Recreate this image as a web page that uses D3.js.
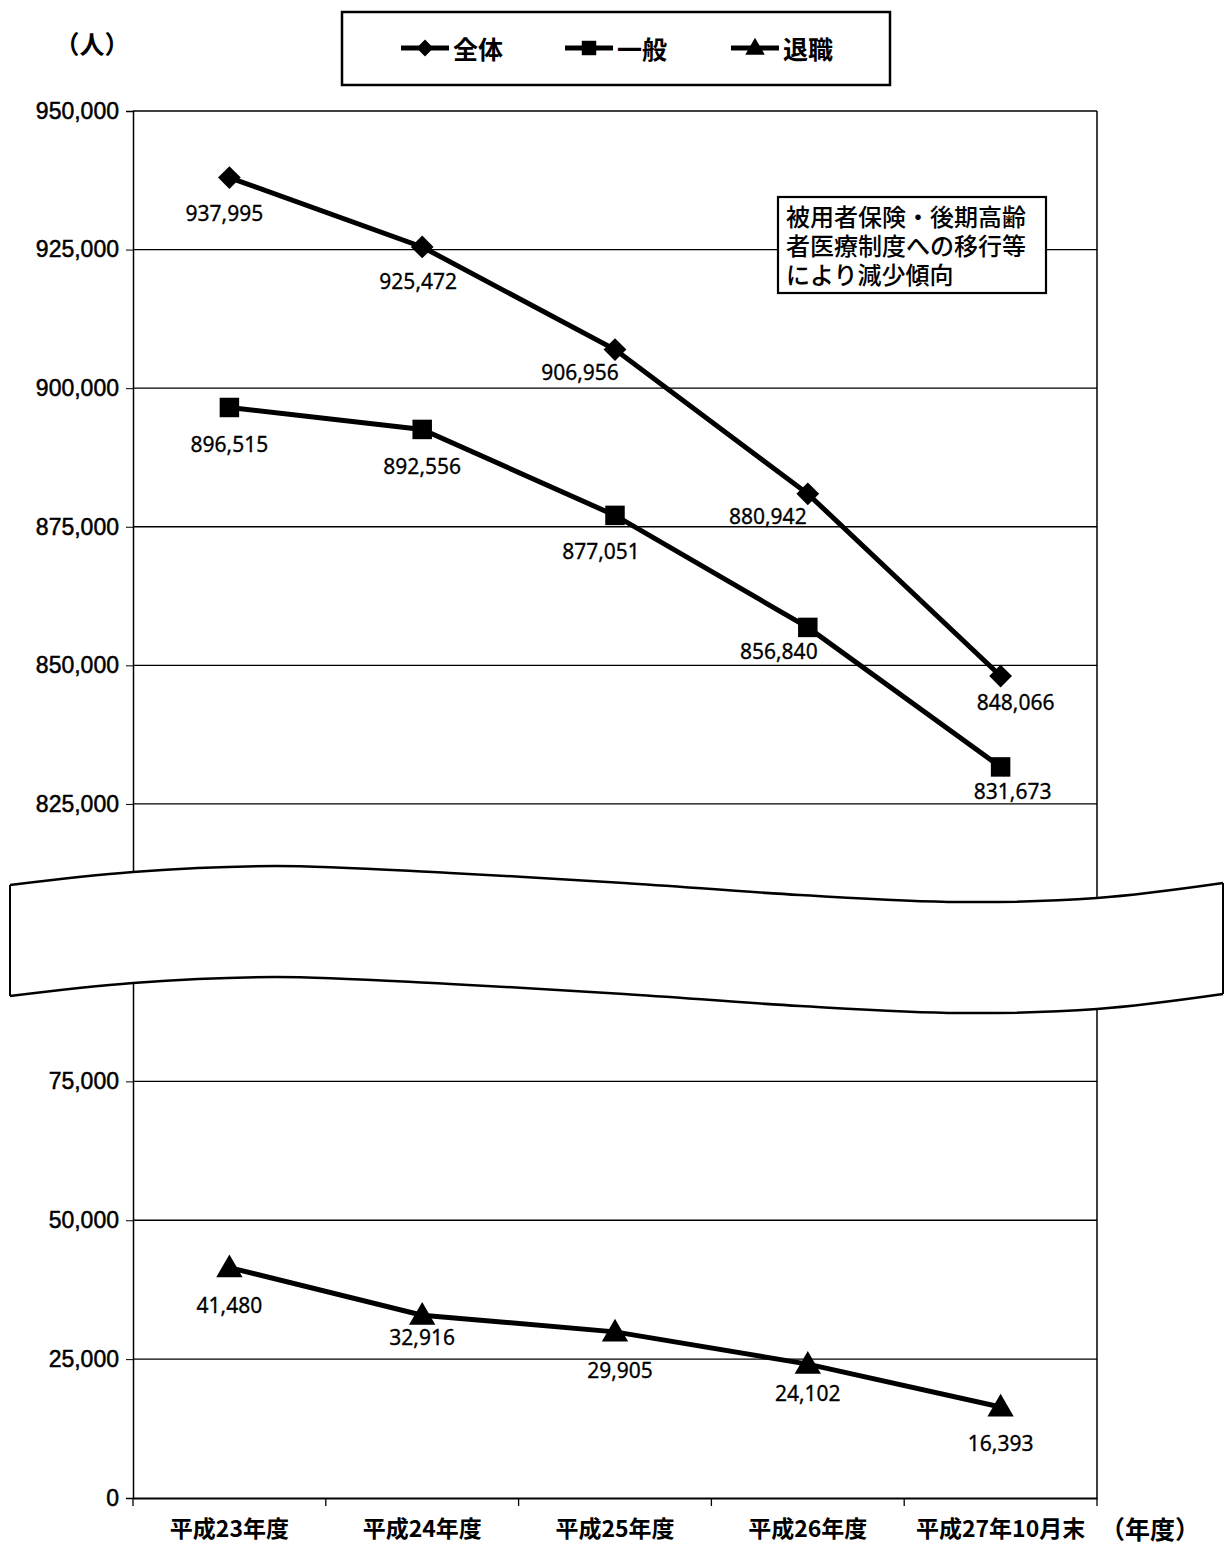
<!DOCTYPE html>
<html><head><meta charset="utf-8">
<script src="https://cdn.jsdelivr.net/npm/d3@7"></script>
<style>body{margin:0;background:#fff}svg{display:block}</style>
</head><body><svg id="c" width="1224" height="1545"></svg>
<script>
// ---------- data ----------
const categories = ["平成23年度","平成24年度","平成25年度","平成26年度","平成27年10月末"];
const seriesNames = ["全体","一般","退職"];
const totalValues = [937995, 925472, 906956, 880942, 848066];
const generalValues = [896515, 892556, 877051, 856840, 831673];
const retiredValues = [41480, 32916, 29905, 24102, 16393];
const upperTicks = [825000, 850000, 875000, 900000, 925000, 950000];
const lowerTicks = [0, 25000, 50000, 75000];
const yUnit = "（人）";
const xUnit = "（年度）";
const noteLines = ["被用者保険・後期高齢","者医療制度への移行等","により減少傾向"];

// ---------- layout (not data) ----------
const labelShift = [
  [[-5,35],[-4,34],[-35,22],[-40,22],[15,26]],
  [[0,37],[0,37],[-14,36],[-29,24],[12,24]],
  [[0,37],[0,22],[5,38],[0,29],[0,36]]
];
const wavePts = [[10,885],[133,872],[275,866],[450,873],[624,883],[800,895],[960,902],[1097,898],[1223,883]];
const waveGap = 111;
const L = 133, R = 1097, T = 111, B = 1498;

const svg = d3.select("#c");
const x = d3.scaleBand().domain(categories).range([L, R]);
const y = d3.scaleLinear().domain([0, 100000, 800000, 950000]).range([B, 942.5, 942.5, T]);
const cx = d => x(d) + x.bandwidth()/2;
const fmt = d3.format(",");

// gridlines
const gridVals = upperTicks.concat(lowerTicks).filter(v => v !== 0 && v !== 950000);
svg.append("g").selectAll("line").data(gridVals).join("line")
  .attr("x1", L).attr("x2", R).attr("y1", d => y(d)).attr("y2", d => y(d))
  .attr("stroke", "#000").attr("stroke-width", 1.3);

// frame
svg.append("line").attr("x1", L).attr("x2", R).attr("y1", T).attr("y2", T).attr("stroke", "#000").attr("stroke-width", 1.5);
svg.append("line").attr("x1", R).attr("x2", R).attr("y1", T).attr("y2", B).attr("stroke", "#000").attr("stroke-width", 1.5);

// y axis
const yAxis = d3.axisLeft(y).tickValues(upperTicks.concat(lowerTicks)).tickFormat(fmt).tickSize(7).tickPadding(7);
const gy = svg.append("g").attr("transform", `translate(${L},0)`).call(yAxis);
gy.select(".domain").attr("stroke-width", 1.5);
gy.selectAll("text").attr("font-family", "Liberation Sans, Arial, sans-serif").attr("font-size", 23)
  .attr("fill", "#000").attr("stroke", "#000").attr("stroke-width", 0.5);

// x axis
const xAxis = d3.axisBottom(x).tickSize(0).tickFormat("");
const gx = svg.append("g").attr("transform", `translate(0,${B})`).call(xAxis);
gx.select(".domain").attr("stroke-width", 2.2);
const bounds = categories.map(c => x(c)).concat([R]);
svg.append("g").selectAll("line").data(bounds).join("line")
  .attr("x1", d => d).attr("x2", d => d).attr("y1", B).attr("y2", B + 8)
  .attr("stroke", "#000").attr("stroke-width", 1.3);
svg.append("g").selectAll("text").data(categories).join("text")
  .attr("x", d => cx(d)).attr("y", B + 39).attr("text-anchor", "middle")
  .attr("font-family", "Noto Sans CJK JP").attr("font-weight", "bold").attr("font-size", 23)
  .text(d => d);

// series
const allSeries = [totalValues, generalValues, retiredValues];
const line = d3.line().x((d, i) => cx(categories[i])).y(d => y(d));
const symbols = [d3.symbolDiamond2, d3.symbolSquare, d3.symbolTriangle];
const symSizes = [330, 380, 300];
allSeries.forEach((vals, s) => {
  svg.append("path").attr("d", line(vals)).attr("fill", "none").attr("stroke", "#000").attr("stroke-width", 5);
  const g = svg.append("g");
  g.selectAll("path").data(vals).join("path")
    .attr("transform", (d, i) => `translate(${cx(categories[i])},${y(d) + (s===2?2:0)})`)
    .attr("d", d3.symbol().type(symbols[s]).size(symSizes[s])).attr("fill", "#000");
  g.selectAll("text").data(vals).join("text")
    .attr("x", (d, i) => cx(categories[i]) + labelShift[s][i][0])
    .attr("y", (d, i) => y(d) + labelShift[s][i][1])
    .attr("dominant-baseline", "central").attr("text-anchor", "middle")
    .attr("font-family", "Noto Sans, sans-serif").attr("font-size", 21)
    .attr("stroke", "#000").attr("stroke-width", 0.3)
    .text(d => fmt(d));
});

// wave break
const waveLine = d3.line().curve(d3.curveCatmullRom);
const topPts = wavePts;
const botPts = wavePts.map(p => [p[0], p[1] + waveGap]);
const topWave = waveLine(topPts);
const botWaveRev = waveLine(botPts.slice().reverse());
svg.append("path").attr("d", topWave + "L" + botWaveRev.slice(1) + "Z").attr("fill", "#fff").attr("stroke", "none");
svg.append("path").attr("d", topWave).attr("fill", "none").attr("stroke", "#000").attr("stroke-width", 2.5);
svg.append("path").attr("d", waveLine(botPts)).attr("fill", "none").attr("stroke", "#000").attr("stroke-width", 2.5);
svg.append("line").attr("x1", topPts[0][0]).attr("x2", topPts[0][0]).attr("y1", topPts[0][1]).attr("y2", botPts[0][1]).attr("stroke", "#000").attr("stroke-width", 2);
const last = topPts.length - 1;
svg.append("line").attr("x1", topPts[last][0]).attr("x2", topPts[last][0]).attr("y1", topPts[last][1]).attr("y2", botPts[last][1]).attr("stroke", "#000").attr("stroke-width", 2);

// units
svg.append("text").attr("x", 92).attr("y", 54).attr("text-anchor", "middle")
  .attr("font-family", "Noto Sans CJK JP").attr("font-weight", "bold").attr("font-size", 25).text(yUnit);
svg.append("text").attr("x", 1150).attr("y", 1539).attr("text-anchor", "middle")
  .attr("font-family", "Noto Sans CJK JP").attr("font-weight", "bold").attr("font-size", 25).text(xUnit);

// legend
svg.append("rect").attr("x", 342).attr("y", 12).attr("width", 548).attr("height", 73)
  .attr("fill", "#fff").attr("stroke", "#000").attr("stroke-width", 2.5);
const legX = [401, 565, 731];
seriesNames.forEach((n, s) => {
  const g = svg.append("g").attr("transform", `translate(${legX[s]},48)`);
  g.append("line").attr("x1", 0).attr("x2", 48).attr("stroke", "#000").attr("stroke-width", 5);
  g.append("path").attr("transform", `translate(24,${s===2?1:0})`).attr("d", d3.symbol().type(symbols[s]).size(symSizes[s]*0.55)).attr("fill", "#000");
  g.append("text").attr("x", 52).attr("y", 0).attr("dominant-baseline", "central")
    .attr("font-family", "Noto Sans CJK JP").attr("font-weight", "bold").attr("font-size", 25).text(n);
});

// note box
svg.append("rect").attr("x", 778).attr("y", 197).attr("width", 268).attr("height", 96)
  .attr("fill", "#fff").attr("stroke", "#000").attr("stroke-width", 2.2);
svg.append("g").selectAll("text").data(noteLines).join("text")
  .attr("x", 786).attr("y", (d, i) => 215 + i * 29).attr("dominant-baseline", "central")
  .attr("font-family", "Noto Sans CJK JP").attr("font-weight", "500").attr("font-size", 24)
  .text(d => d);
</script></body></html>
